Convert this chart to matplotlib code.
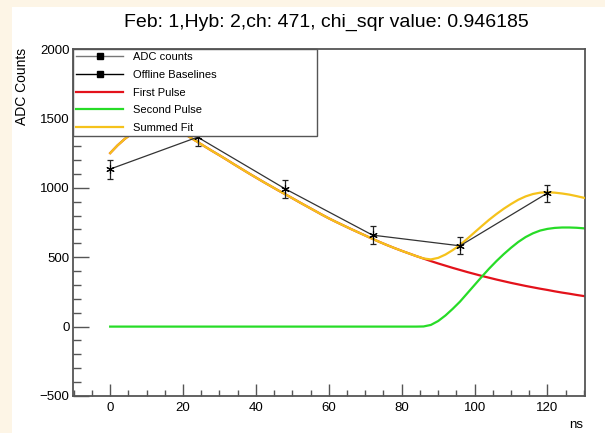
import matplotlib
matplotlib.use("Agg")
import matplotlib.pyplot as plt
from matplotlib.lines import Line2D
from matplotlib.patches import Rectangle
from matplotlib.ticker import MultipleLocator

plt.rcParams['font.family'] = ['Liberation Sans', 'DejaVu Sans']

# sampled ADC values (ns, counts, error)
sample_t = [0, 24, 48, 72, 96, 120]
adc_counts = [1135, 1365, 993, 659, 582, 962]
adc_err = [68, 65, 64, 66, 62, 61]

# fit curves on a 2 ns grid
fit_t = [0, 2, 4, 6, 8, 10, 12, 14, 16, 18, 20, 22, 24, 26, 28, 30, 32, 34,
         36, 38, 40, 42, 44, 46, 48, 50, 52, 54, 56, 58, 60, 62, 64, 66, 68,
         70, 72, 74, 76, 78, 80, 82, 84, 86, 88, 90, 92, 94, 96, 98, 100, 102,
         104, 106, 108, 110, 112, 114, 116, 118, 120, 122, 124, 126, 128, 130]
first_pulse = [1250, 1305, 1352, 1392, 1424, 1447, 1460, 1462, 1450, 1425,
               1395, 1362, 1330, 1297, 1265, 1234, 1202, 1169, 1137, 1105,
               1074, 1043, 1013, 983, 954, 925, 895, 866, 837, 808, 780, 754,
               729, 704, 680, 656, 632, 609, 587, 566, 546, 527, 508, 490, 472,
               455, 439, 423, 408, 393, 379, 365, 352, 339, 327, 315, 304, 293,
               283, 273, 264, 254, 245, 237, 228, 220]
second_pulse = [0, 0, 0, 0, 0, 0, 0, 0, 0, 0, 0, 0, 0, 0, 0, 0, 0, 0, 0, 0, 0,
                0, 0, 0, 0, 0, 0, 0, 0, 0, 0, 0, 0, 0, 0, 0, 0, 0, 0, 0, 0, 0,
                0, 1, 12, 40, 80, 128, 180, 240, 300, 360, 418, 472, 522, 568,
                610, 645, 672, 692, 704, 711, 714, 714, 712, 708]
summed_fit = [1250, 1305, 1352, 1392, 1424, 1447, 1460, 1462, 1450, 1425,
              1395, 1362, 1330, 1297, 1265, 1234, 1202, 1169, 1137, 1105,
              1074, 1043, 1013, 983, 954, 925, 895, 866, 837, 808, 780, 754,
              729, 704, 680, 656, 632, 609, 587, 566, 546, 527, 508, 491, 484,
              495, 519, 551, 588, 633, 679, 725, 770, 811, 849, 883, 914, 938,
              955, 965, 968, 965, 959, 951, 940, 928]

title = "Feb: 1,Hyb: 2,ch: 471, chi_sqr value: 0.946185"

frame_col = '#555555'
red = '#e3121b'
green = '#27dc27'
gold = '#f5c21b'

fig = plt.figure(figsize=(6.05, 4.33), dpi=100, facecolor='#fdf5e6')
fig.add_artist(Rectangle((12 / 605, 0), 1 - 12 / 605, 1 - 7 / 433,
                         transform=fig.transFigure, facecolor='white',
                         edgecolor='none', zorder=0))

ax = fig.add_axes([73 / 605, 1 - 396 / 433, 512 / 605, 347 / 433])
ax.set_xlim(-10.2, 130.3)
ax.set_ylim(-500, 2000)

ax.plot(fit_t, first_pulse, color=red, lw=1.6, zorder=2)
ax.plot(fit_t, second_pulse, color=green, lw=1.6, zorder=2)
ax.plot(fit_t, summed_fit, color=gold, lw=1.6, zorder=3)

ax.plot(sample_t, adc_counts, color='#333333', lw=0.9, zorder=4)
ax.errorbar(sample_t, adc_counts, yerr=adc_err, fmt='none', ecolor='#222222',
            elinewidth=0.9, capsize=2, capthick=0.9, zorder=5)
ax.plot(sample_t, adc_counts, ls='none', marker=(6, 2, 0), ms=6, mew=0.8,
        color='black', zorder=6)

# ROOT-like frame: inward ticks on bottom/left only
for side in ['top', 'right', 'bottom', 'left']:
    ax.spines[side].set_color(frame_col)
    ax.spines[side].set_linewidth(1.3)
ax.xaxis.set_major_locator(MultipleLocator(20))
ax.xaxis.set_minor_locator(MultipleLocator(5))
ax.yaxis.set_major_locator(MultipleLocator(500))
ax.yaxis.set_minor_locator(MultipleLocator(100))
ax.tick_params(axis='x', which='major', direction='in', length=8.6, width=1,
               color=frame_col, labelsize=9.5, pad=4)
ax.tick_params(axis='x', which='minor', direction='in', length=4.3, width=1,
               color=frame_col)
ax.tick_params(axis='y', which='major', direction='in', length=11.5, width=1,
               color=frame_col, labelsize=9.5, pad=2.5)
ax.tick_params(axis='y', which='minor', direction='in', length=5.8, width=1,
               color=frame_col)

handles = [
    Line2D([], [], color='#777777', lw=1, marker='s', ms=5, mfc='black', mec='black'),
    Line2D([], [], color='black', lw=1, marker='s', ms=5, mfc='black', mec='black'),
    Line2D([], [], color=red, lw=1.6),
    Line2D([], [], color=green, lw=1.6),
    Line2D([], [], color=gold, lw=1.6),
]
labels = ['ADC counts', 'Offline Baselines', 'First Pulse', 'Second Pulse', 'Summed Fit']
leg = ax.legend(handles, labels, loc='upper left', bbox_to_anchor=(0, 0, 244 / 512, 1),
                mode='expand', borderaxespad=0, fancybox=False, framealpha=1,
                edgecolor=frame_col, fontsize=8, handlelength=4.2,
                handletextpad=0.9, labelspacing=0.69, borderpad=0.3)
leg.get_frame().set_linewidth(1)
leg.set_zorder(10)

fig.text(326 / 605, 1 - 22 / 433, title, ha='center', va='center', fontsize=14)
fig.text(22 / 605, 1 - 48 / 433, 'ADC Counts', rotation=90, ha='center',
         va='top', fontsize=10)
fig.text(583 / 605, 1 - 425 / 433, 'ns', ha='right', va='center', fontsize=9.5)

fig.savefig('out.png', dpi=100, facecolor=fig.get_facecolor())
